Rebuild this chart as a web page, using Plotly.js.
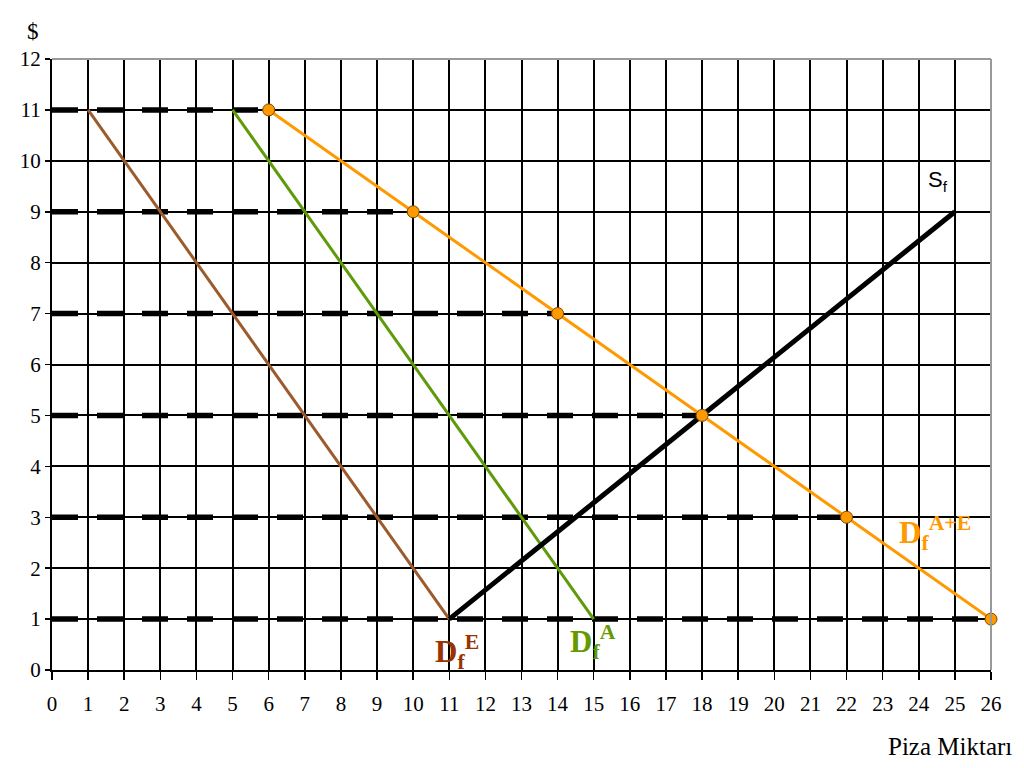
<!DOCTYPE html>
<html>
<head>
<meta charset="utf-8">
<script src="https://cdn.plot.ly/plotly-3.0.1.min.js"></script>
<style>html,body{margin:0;padding:0;background:#fff;}#chart{width:1024px;height:768px;}</style>
</head>
<body>
<div id="chart"></div>
<script>
// Price levels with dashed reference lines and where each dashed line ends
const priceLevels = [11, 9, 7, 5, 3, 1];
const dashEnds = [6, 10, 14, 18, 22, 26];
// Individual demand curves
const demandE_x = [1, 11];
const demandE_y = [11, 1];
const demandA_x = [5, 15];
const demandA_y = [11, 1];
// Market demand (horizontal sum)
const marketX = [6, 10, 14, 18, 22, 26];
const marketY = [11, 9, 7, 5, 3, 1];
// Supply
const supplyX = [11, 25];
const supplyY = [1, 9];
// Axis ticks
const xTicks = Array.from({length: 27}, (_, i) => i);
const yTicks = Array.from({length: 13}, (_, i) => i);

const serif = '"Liberation Serif", "Times New Roman", serif';
const sans = '"Liberation Sans", Arial, sans-serif';
const traces = [];

priceLevels.forEach((p, i) => {
  traces.push({
    x: [0, dashEnds[i]], y: [p, p], mode: 'lines', type: 'scatter',
    line: {color: '#000', width: 5.5, dash: '26px,19px'},
    hoverinfo: 'skip', showlegend: false
  });
});

traces.push({x: demandE_x, y: demandE_y, mode: 'lines', type: 'scatter',
  line: {color: '#9C5B2C', width: 3}, showlegend: false});
traces.push({x: demandA_x, y: demandA_y, mode: 'lines', type: 'scatter',
  line: {color: '#5E9A0A', width: 3}, showlegend: false});
traces.push({x: supplyX, y: supplyY, mode: 'lines', type: 'scatter',
  line: {color: '#000', width: 5}, showlegend: false});
traces.push({x: marketX, y: marketY, mode: 'lines+markers', type: 'scatter',
  line: {color: '#FF9900', width: 3},
  marker: {size: 12, color: '#FF9900', line: {color: '#7A4A00', width: 1}},
  cliponaxis: false, showlegend: false});

const layout = {
  width: 1024, height: 768,
  margin: {l: 52, r: 33, t: 59, b: 98},
  paper_bgcolor: '#fff', plot_bgcolor: '#fff',
  showlegend: false,
  font: {family: serif, color: '#000'},
  xaxis: {
    range: [0, 26], tickvals: xTicks, ticktext: xTicks.map(String),
    showgrid: true, gridcolor: '#000', gridwidth: 2,
    showline: true, linecolor: '#000', linewidth: 2,
    ticks: 'outside', ticklen: 8, tickcolor: '#000', tickwidth: 1.5,
    zeroline: false, fixedrange: true,
    tickfont: {family: serif, size: 21, color: '#000'},
    ticklabelstandoff: 6
  },
  yaxis: {
    range: [0, 12], tickvals: yTicks, ticktext: yTicks.map(String),
    showgrid: true, gridcolor: '#000', gridwidth: 2,
    showline: true, linecolor: '#000', linewidth: 2,
    ticks: 'outside', ticklen: 5, tickcolor: '#000', tickwidth: 1.5,
    zeroline: false, fixedrange: true,
    tickfont: {family: serif, size: 21, color: '#000'}
  },
  shapes: [
    {type: 'line', xref: 'paper', yref: 'paper', x0: 0, x1: 1, y0: 1, y1: 1, line: {color: '#999', width: 2}, layer: 'above'},
    {type: 'line', xref: 'paper', yref: 'paper', x0: 1, x1: 1, y0: 0, y1: 1, line: {color: '#999', width: 2}, layer: 'above'}
  ],
  annotations: [
    {text: '$', xref: 'paper', yref: 'paper', x: -0.02, y: 1.021, xanchor: 'center', yanchor: 'bottom', showarrow: false,
      font: {family: serif, size: 23, color: '#000'}},
    {text: 'Piza Miktarı', xref: 'paper', yref: 'paper', x: 1.025, y: -0.1, xanchor: 'right', yanchor: 'top', showarrow: false,
      font: {family: serif, size: 25, color: '#000'}},
    {text: '<b>D<sub>f</sub><sup>E</sup></b>', x: 10.55, y: 0.35, xanchor: 'left', yanchor: 'middle', showarrow: false,
      font: {family: serif, size: 31, color: '#993300'}},
    {text: '<b>D<sub>f</sub><sup>A</sup></b>', x: 14.3, y: 0.55, xanchor: 'left', yanchor: 'middle', showarrow: false,
      font: {family: serif, size: 31, color: '#669900'}},
    {text: '<b>D<sub>f</sub><sup>A+E</sup></b>', x: 23.4, y: 2.7, xanchor: 'left', yanchor: 'middle', showarrow: false,
      font: {family: serif, size: 31, color: '#FF9900'}},
    {text: 'S<sub>f</sub>', x: 24.2, y: 9.6, xanchor: 'left', yanchor: 'middle', showarrow: false,
      font: {family: sans, size: 22, color: '#000'}}
  ]
};

Plotly.newPlot('chart', traces, layout, {displayModeBar: false, staticPlot: true});
</script>
</body>
</html>
